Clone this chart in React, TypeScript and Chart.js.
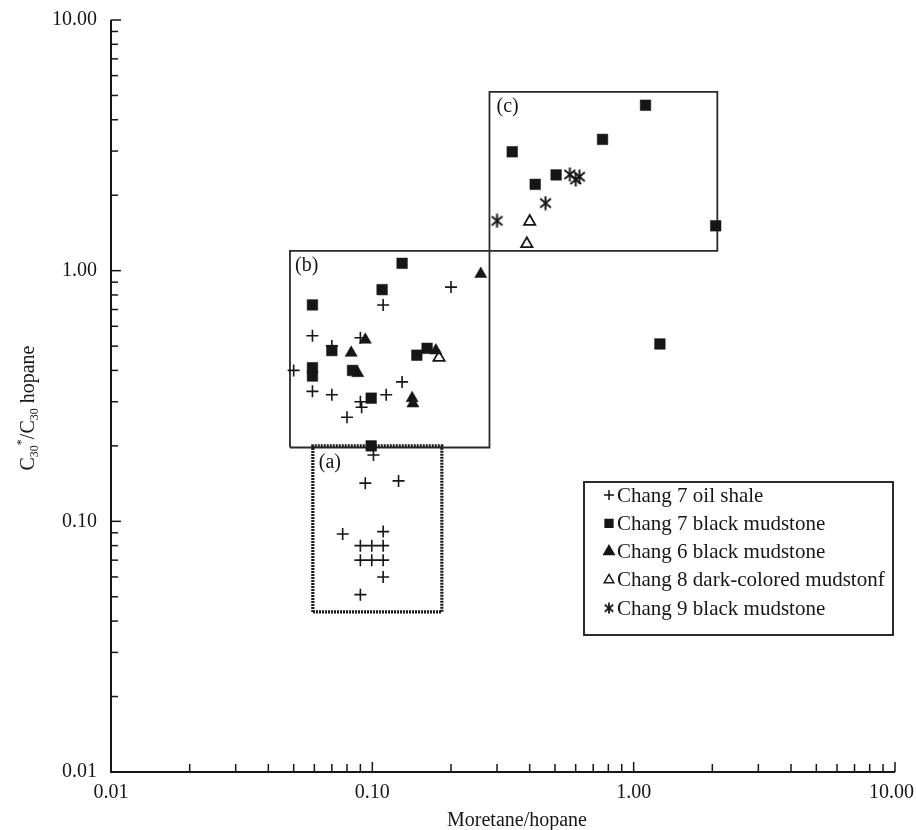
import React, { useEffect, useRef } from 'react';
import { Chart, registerables } from 'chart.js';
import { drawPoint } from 'chart.js/helpers';

Chart.register(...registerables);

// ---- data (Moretane/hopane, C30*/C30 hopane) ----
const chang7OilShale: [number, number][] = [
  [0.20, 0.86], [0.11, 0.73], [0.059, 0.55], [0.070, 0.50], [0.090, 0.54],
  [0.050, 0.40], [0.059, 0.33], [0.070, 0.32], [0.080, 0.26], [0.090, 0.30],
  [0.091, 0.285], [0.113, 0.32], [0.13, 0.36], [0.101, 0.184], [0.094, 0.142],
  [0.126, 0.145], [0.077, 0.089], [0.110, 0.091], [0.090, 0.080], [0.0995, 0.080],
  [0.110, 0.080], [0.090, 0.070], [0.0995, 0.070], [0.110, 0.070], [0.110, 0.060],
  [0.090, 0.051],
];
const chang7BlackMudstone: [number, number][] = [
  [0.13, 1.07], [0.109, 0.84], [0.059, 0.73], [0.070, 0.48], [0.059, 0.41],
  [0.059, 0.38], [0.084, 0.40], [0.099, 0.31], [0.148, 0.46], [0.162, 0.49],
  [0.099, 0.20], [1.11, 4.57], [0.76, 3.34], [0.343, 2.98], [0.505, 2.41],
  [0.42, 2.21], [2.06, 1.51], [1.26, 0.51],
];
const chang6BlackMudstone: [number, number][] = [
  [0.26, 0.97], [0.094, 0.53], [0.083, 0.47], [0.088, 0.39], [0.142, 0.31],
  [0.143, 0.295], [0.175, 0.48],
];
const chang8DarkMudstone: [number, number][] = [
  [0.18, 0.45], [0.40, 1.57], [0.39, 1.28],
];
const chang9BlackMudstone: [number, number][] = [
  [0.30, 1.58], [0.46, 1.86], [0.57, 2.42], [0.60, 2.31], [0.62, 2.37],
];

const seriesNames = [
  'Chang 7 oil shale',
  'Chang 7 black mudstone',
  'Chang 6 black mudstone',
  'Chang 8 dark-colored mudstonf',
  'Chang 9 black mudstone',
];

// region boxes: [left, right, bottom, top]
const boxLabels = ['(a)', '(b)', '(c)'];
const boxA = [0.0592, 0.1845, 0.0435, 0.2];
const boxB = [0.0484, 0.2807, 0.197, 1.2];
const boxC = [0.2807, 2.09, 1.2, 5.17];

const xTickValues = [0.01, 0.1, 1, 10];
const xTickLabels = ['0.01', '0.10', '1.00', '10.00'];
const yTickValues = [0.01, 0.1, 1, 10];
const yTickLabels = ['0.01', '0.10', '1.00', '10.00'];
const xTitle = 'Moretane/hopane';

const FONT = '"Liberation Serif", "Times New Roman", serif';
const INK = '#161616';

function makeAsterisk(size: number, lw: number): HTMLCanvasElement {
  const c = document.createElement('canvas');
  c.width = size;
  c.height = size;
  const g = c.getContext('2d')!;
  g.strokeStyle = INK;
  g.lineWidth = lw;
  g.lineCap = 'butt';
  const cx = size / 2;
  const r = size / 2 - 0.5;
  for (const a of [90, 40, 140]) {
    const rad = (a * Math.PI) / 180;
    g.beginPath();
    g.moveTo(cx - r * Math.cos(rad), cx + r * Math.sin(rad));
    g.lineTo(cx + r * Math.cos(rad), cx - r * Math.sin(rad));
    g.stroke();
  }
  return c;
}

const toPts = (a: [number, number][]) => a.map(([x, y]) => ({ x, y }));
const boxPath = (b: number[]) => [
  { x: b[0], y: b[2] }, { x: b[0], y: b[3] }, { x: b[1], y: b[3] },
  { x: b[1], y: b[2] }, { x: b[0], y: b[2] },
];

export default function App() {
  const ref = useRef<HTMLCanvasElement>(null);

  useEffect(() => {
    document.body.style.margin = '0';
    const canvas = ref.current!;
    const asterisk = makeAsterisk(15, 2);
    const asteriskSmall = makeAsterisk(12, 1.8);

    const axesPlugin = {
      id: 'customAxes',
      afterDraw(chart: any) {
        const ctx: CanvasRenderingContext2D = chart.ctx;
        const xs = chart.scales.x;
        const ys = chart.scales.y;
        const area = chart.chartArea;
        ctx.save();
        ctx.strokeStyle = INK;
        ctx.fillStyle = INK;
        // axis lines
        ctx.lineWidth = 2;
        ctx.beginPath();
        ctx.moveTo(area.left, area.top);
        ctx.lineTo(area.left, area.bottom);
        ctx.lineTo(area.right, area.bottom);
        ctx.stroke();
        // ticks
        ctx.lineWidth = 1.5;
        const decades = [0.01, 0.1, 1];
        const drawXTick = (v: number, len: number) => {
          const px = xs.getPixelForValue(v);
          ctx.beginPath();
          ctx.moveTo(px, area.bottom);
          ctx.lineTo(px, area.bottom - len);
          ctx.stroke();
        };
        const drawYTick = (v: number, len: number) => {
          const py = ys.getPixelForValue(v);
          ctx.beginPath();
          ctx.moveTo(area.left, py);
          ctx.lineTo(area.left + len, py);
          ctx.stroke();
        };
        for (const d of decades) {
          for (let k = 2; k <= 9; k++) {
            drawXTick(k * d, 8);
            drawYTick(k * d, 7);
          }
        }
        for (const v of xTickValues) drawXTick(v, 10);
        for (const v of yTickValues) drawYTick(v, 10);

        // tick labels
        ctx.font = `20px ${FONT}`;
        ctx.textBaseline = 'middle';
        ctx.textAlign = 'center';
        xTickValues.forEach((v, i) => {
          let px = xs.getPixelForValue(v);
          const w = ctx.measureText(xTickLabels[i]).width;
          px = Math.min(px, chart.width - w / 2 - 2);
          ctx.fillText(xTickLabels[i], px, area.bottom + 21);
        });
        ctx.textAlign = 'right';
        yTickValues.forEach((v, i) => {
          ctx.fillText(yTickLabels[i], area.left - 14, ys.getPixelForValue(v));
        });

        // x title
        ctx.textAlign = 'center';
        ctx.fillText(xTitle, 517, 821);

        // y title with sub/superscripts
        const segs: [string, 'n' | 'sub' | 'sup'][] = [
          ['C', 'n'], ['30', 'sub'], ['*', 'sup'], ['/C', 'n'], ['30', 'sub'], [' hopane', 'n'],
        ];
        const fontFor = (t: string) => (t === 'n' ? `20px ${FONT}` : `12px ${FONT}`);
        let total = 0;
        for (const [s, t] of segs) {
          ctx.font = fontFor(t);
          total += ctx.measureText(s).width;
        }
        ctx.save();
        ctx.translate(28, 408);
        ctx.rotate(-Math.PI / 2);
        ctx.textAlign = 'left';
        ctx.textBaseline = 'alphabetic';
        let cx = -total / 2;
        for (const [s, t] of segs) {
          ctx.font = fontFor(t);
          const dy = t === 'sub' ? 4 : t === 'sup' ? -9 : 0;
          ctx.fillText(s, cx, 6 + dy);
          cx += ctx.measureText(s).width;
        }
        ctx.restore();

        // box labels
        ctx.font = `20px ${FONT}`;
        ctx.textAlign = 'left';
        ctx.textBaseline = 'middle';
        const boxes = [boxA, boxB, boxC];
        const offs = [[6, 17], [5, 15], [7, 15]];
        boxes.forEach((b, i) => {
          const px = xs.getPixelForValue(b[0]);
          const py = ys.getPixelForValue(b[3]);
          ctx.fillText(boxLabels[i], px + offs[i][0], py + offs[i][1]);
        });

        // legend
        const lx = 584, ly = 482, lw = 309, lh = 153;
        ctx.lineWidth = 1.8;
        ctx.strokeRect(lx, ly, lw, lh);
        ctx.font = `21px ${FONT}`;
        const styles: any[] = ['cross', 'rect', 'triangle', 'triangle', asteriskSmall];
        const fills = [INK, INK, INK, '#ffffff', INK];
        const radii = [5, 5.5, 6, 5.5, 6];
        seriesNames.forEach((name, i) => {
          const cy = ly + 13 + i * 28.3;
          ctx.fillStyle = fills[i];
          ctx.strokeStyle = INK;
          ctx.lineWidth = 1.5;
          drawPoint(ctx, { pointStyle: styles[i], radius: radii[i], borderWidth: 1.5, rotation: 0 } as any, 609, cy);
          ctx.fillStyle = INK;
          ctx.fillText(name, 617, cy + 1);
        });
        ctx.restore();
      },
    };

    const boxDs = (b: number[], dotted: boolean) => ({
      type: 'line' as const,
      data: boxPath(b),
      showLine: true,
      pointRadius: 0,
      borderColor: dotted ? '#1a1a1a' : '#2a2a2a',
      borderWidth: dotted ? 3.2 : 1.8,
      borderDash: dotted ? [2, 1] : [],
      fill: false,
      tension: 0,
      order: 10,
    });

    const chart = new Chart(canvas, {
      type: 'scatter',
      data: {
        datasets: [
          boxDs(boxA, true) as any,
          boxDs(boxB, false) as any,
          boxDs(boxC, false) as any,
          {
            label: seriesNames[0], data: toPts(chang7OilShale), pointStyle: 'cross',
            pointRadius: 6, borderColor: INK, backgroundColor: INK, pointBorderWidth: 1.6, order: 1,
          },
          {
            label: seriesNames[1], data: toPts(chang7BlackMudstone), pointStyle: 'rect',
            pointRadius: 7.5, borderColor: INK, backgroundColor: INK, pointBorderWidth: 0.5, order: 1,
          },
          {
            label: seriesNames[2], data: toPts(chang6BlackMudstone), pointStyle: 'triangle',
            pointRadius: 7, borderColor: INK, backgroundColor: INK, pointBorderWidth: 0.5, order: 1,
          },
          {
            label: seriesNames[3], data: toPts(chang8DarkMudstone), pointStyle: 'triangle',
            pointRadius: 6.5, borderColor: INK, backgroundColor: '#ffffff', pointBorderWidth: 1.8, order: 1,
          },
          {
            label: seriesNames[4], data: toPts(chang9BlackMudstone), pointStyle: asterisk as any,
            pointRadius: 7, borderColor: INK, backgroundColor: INK, order: 1,
          },
        ],
      },
      options: {
        responsive: false,
        animation: false,
        layout: { padding: { left: 111, top: 20, right: 21, bottom: 58 } },
        plugins: { legend: { display: false }, tooltip: { enabled: false } },
        scales: {
          x: { type: 'logarithmic', min: 0.01, max: 10, display: false },
          y: { type: 'logarithmic', min: 0.01, max: 10, display: false },
        },
      },
      plugins: [axesPlugin],
    });
    return () => chart.destroy();
  }, []);

  return (
    <div style={{ width: 916, height: 830, background: '#fff' }}>
      <canvas ref={ref} width={916} height={830} />
    </div>
  );
}
